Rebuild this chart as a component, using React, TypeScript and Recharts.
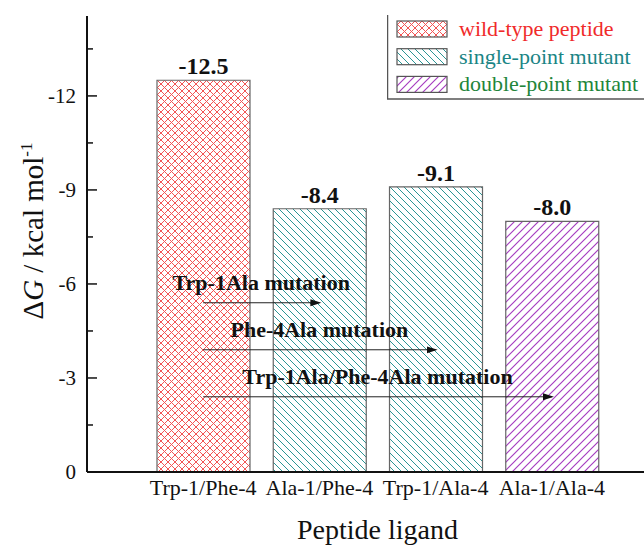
import React from "react";
import { BarChart, Bar, XAxis, YAxis, Cell, LabelList, Legend, ReferenceLine } from "recharts";

const FONT = "Liberation Serif";
const serif = { fontFamily: FONT };

const peptides = ["Trp-1/Phe-4", "Ala-1/Phe-4", "Trp-1/Ala-4", "Ala-1/Ala-4"];
const deltaG = [-12.5, -8.4, -9.1, -8.0];
const peptideGroup = ["wild", "single", "single", "double"];

const groups = ["wild", "single", "double"];
const groupNames = ["wild-type peptide", "single-point mutant", "double-point mutant"];
const groupTextColors = ["#f02a2a", "#1a8585", "#22853a"];

const yTicks = [0, -1.5, -3, -4.5, -6, -7.5, -9, -10.5, -12, -13.5];
const yLabelled = [0, -3, -6, -9, -12];

const mutationNames = ["Trp-1Ala mutation", "Phe-4Ala mutation", "Trp-1Ala/Phe-4Ala mutation"];
const mutationFrom = ["Trp-1/Phe-4", "Trp-1/Phe-4", "Trp-1/Phe-4"];
const mutationTo = ["Ala-1/Phe-4", "Trp-1/Ala-4", "Ala-1/Ala-4"];
const mutationLevel = [-5.4, -3.9, -2.4];

const data = peptides.map((name, i) => ({ name, value: deltaG[i], group: peptideGroup[i] }));

// patterns + arrow head, shared by chart and legend
const Defs = () => (
  <svg width={0} height={0} style={{ position: "absolute" }}>
    <defs>
      <pattern id="pat-wild" patternUnits="userSpaceOnUse" width={7} height={7}>
        <rect width={7} height={7} fill="#fff" />
        <path d="M0,0L7,7M7,0L0,7" stroke="#f25555" strokeWidth={1} />
      </pattern>
      <pattern id="pat-single" patternUnits="userSpaceOnUse" width={7} height={7}>
        <rect width={7} height={7} fill="#fff" />
        <path d="M0,0L7,7M-1,6L1,8M6,-1L8,1" stroke="#2b9595" strokeWidth={1} />
      </pattern>
      <pattern id="pat-double" patternUnits="userSpaceOnUse" width={8} height={8}>
        <rect width={8} height={8} fill="#fff" />
        <path d="M0,8L8,0M-1,1L1,-1M7,9L9,7" stroke="#a63cc0" strokeWidth={1.15} />
      </pattern>
      <marker id="arrow" markerUnits="userSpaceOnUse" markerWidth={12} markerHeight={8} refX={9} refY={3.5} orient="auto">
        <path d="M0,0L11,3.5L0,7z" fill="#111" />
      </marker>
    </defs>
  </svg>
);

const YTick = (props: any) => {
  const { x, y, payload } = props;
  const v = payload.value;
  const major = yLabelled.includes(v);
  const ax = x + 11;
  return (
    <g>
      <line x1={ax} x2={ax + (major ? 10 : 6)} y1={y} y2={y} stroke="#111" strokeWidth={1.5} />
      {major && (
        <text x={x} y={y} dy={7} textAnchor="end" fontSize={21} style={serif} fill="#111">
          {String(v)}
        </text>
      )}
    </g>
  );
};

const XTick = (props: any) => {
  const { x, y, payload } = props;
  return (
    <text x={x} y={y} dy={23} textAnchor="middle" fontSize={22} style={serif} fill="#111">
      {payload.value}
    </text>
  );
};

const YTitle = (props: any) => {
  const vb = props.viewBox;
  const x = vb.x + 43;
  const y = vb.y + vb.height / 2 - 13;
  return (
    <text x={x} y={y} transform={`rotate(-90, ${x}, ${y})`} textAnchor="middle" fontSize={29} style={serif} fill="#111">
      Δ<tspan fontStyle="italic">G</tspan> / kcal mol<tspan dy={-11} fontSize={17}>-1</tspan>
    </text>
  );
};

const XTitle = (props: any) => {
  const vb = props.viewBox;
  return (
    <text x={vb.x + vb.width / 2 + 12} y={vb.y + 67} textAnchor="middle" fontSize={28} style={serif} fill="#111">
      Peptide ligand
    </text>
  );
};

const mutationLabel = (text: string) => (props: any) => {
  const vb = props.viewBox;
  return (
    <text x={vb.x + vb.width / 2} y={vb.y - 13} textAnchor="middle" fontSize={22} fontWeight="bold" style={serif} fill="#111">
      {text}
    </text>
  );
};

const BarValue = (props: any) => {
  const { x, y, width, value } = props;
  return (
    <text x={x + width / 2} y={y - 6} textAnchor="middle" fontSize={24} fontWeight="bold" style={serif} fill="#111">
      {Number(value).toFixed(1)}
    </text>
  );
};

const LegendBox = () => (
  <svg width={257} height={100}>
    <line x1={0.5} y1={15} x2={0.5} y2={99} stroke="#555" strokeWidth={1.5} />
    <line x1={0} y1={99} x2={257} y2={99} stroke="#555" strokeWidth={1.5} />
    {groups.map((g, i) => (
      <g key={g}>
        <rect x={10} y={21 + i * 27.7} width={50} height={16} fill={`url(#pat-${g})`} stroke="#555" strokeWidth={1.2} />
        <text x={72} y={36 + i * 27.7} fontSize={22} style={serif} fill={groupTextColors[i]}>
          {groupNames[i]}
        </text>
      </g>
    ))}
  </svg>
);

export default function App() {
  return (
    <div style={{ position: "absolute", left: 0, top: 0, width: 644, height: 545, overflow: "hidden", background: "#fff", fontFamily: FONT }}>
      <Defs />
      <BarChart width={644} height={545} data={data} margin={{ top: 16, right: 0, bottom: 0, left: 0 }} style={serif}>
        <XAxis
          dataKey="name"
          height={73}
          padding={{ left: 58, right: 34 }}
          axisLine={{ stroke: "#111", strokeWidth: 2 }}
          tickLine={false}
          tickSize={0}
          tickMargin={0}
          interval={0}
          tick={<XTick />}
          label={<XTitle />}
        />
        <YAxis
          type="number"
          width={87}
          reversed
          domain={[-14.55, 0]}
          allowDataOverflow
          ticks={yTicks}
          interval={0}
          axisLine={{ stroke: "#111", strokeWidth: 2 }}
          tickLine={false}
          tickSize={0}
          tickMargin={11}
          tick={<YTick />}
          label={<YTitle />}
        />
        <Legend layout="horizontal" verticalAlign="middle" wrapperStyle={{ left: 387, top: 0, width: 257, height: 100 }} content={() => <LegendBox />} />
        <Bar dataKey="value" barSize={93} isAnimationActive={false} stroke="#666" strokeWidth={1.2}>
          {data.map((d) => (
            <Cell key={d.name} fill={`url(#pat-${d.group})`} />
          ))}
          <LabelList dataKey="value" content={<BarValue />} />
        </Bar>
        {mutationNames.map((name, i) => (
          <ReferenceLine
            key={name}
            segment={[
              { x: mutationFrom[i], y: mutationLevel[i] },
              { x: mutationTo[i], y: mutationLevel[i] },
            ]}
            stroke="#222"
            strokeWidth={1}
            markerEnd="url(#arrow)"
            ifOverflow="visible"
            label={mutationLabel(name)}
          />
        ))}
      </BarChart>
    </div>
  );
}
